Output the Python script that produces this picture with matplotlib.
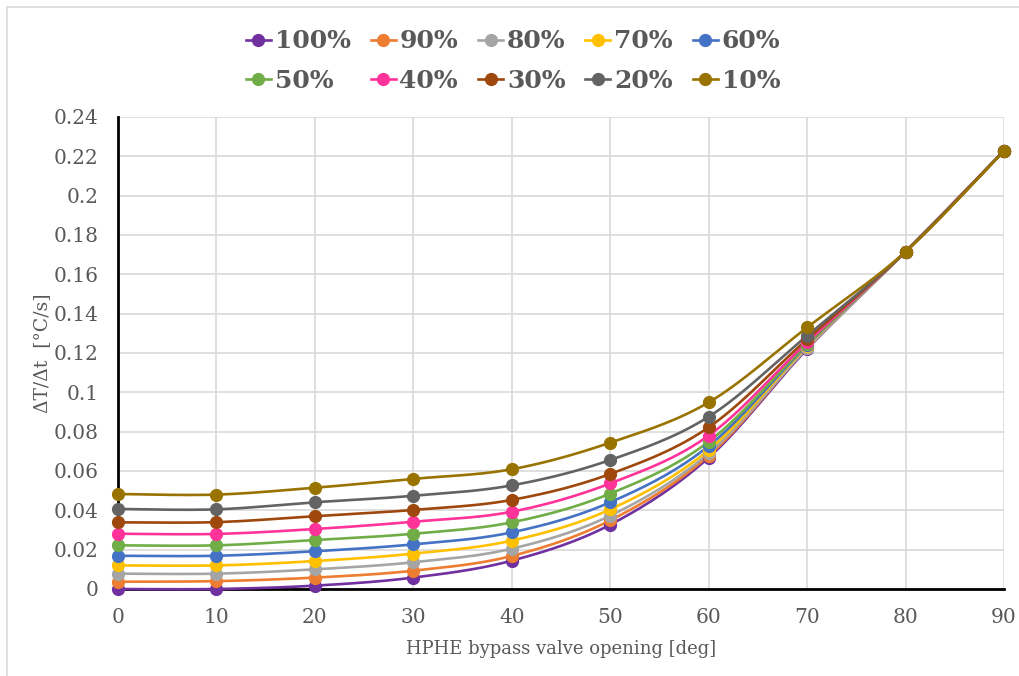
import numpy as np
import matplotlib
matplotlib.use("Agg")
import matplotlib.pyplot as plt
from matplotlib.lines import Line2D
from matplotlib.patches import Rectangle

x_deg = [0, 10, 20, 30, 40, 50, 60, 70, 80, 90]
labels = ["100%", "90%", "80%", "70%", "60%", "50%", "40%", "30%", "20%", "10%"]
colors = ["#7030A0", "#ED7D31", "#A5A5A5", "#FFC000", "#4472C4",
          "#70AD47", "#FF3399", "#9E480E", "#636363", "#997300"]

s100 = [0.0000, 0.0000, 0.0017, 0.0058, 0.0144, 0.0327, 0.0668, 0.1220, 0.1715, 0.2228]
s90 = [0.0037, 0.0040, 0.0058, 0.0093, 0.0168, 0.0349, 0.0678, 0.1225, 0.1715, 0.2228]
s80 = [0.0078, 0.0078, 0.0100, 0.0136, 0.0205, 0.0373, 0.0690, 0.1225, 0.1715, 0.2228]
s70 = [0.0120, 0.0120, 0.0142, 0.0180, 0.0246, 0.0405, 0.0707, 0.1235, 0.1715, 0.2228]
s60 = [0.0169, 0.0169, 0.0192, 0.0227, 0.0288, 0.0441, 0.0727, 0.1240, 0.1715, 0.2228]
s50 = [0.0222, 0.0222, 0.0249, 0.0281, 0.0339, 0.0485, 0.0749, 0.1245, 0.1715, 0.2228]
s40 = [0.0281, 0.0280, 0.0305, 0.0342, 0.0393, 0.0537, 0.0780, 0.1255, 0.1715, 0.2228]
s30 = [0.0339, 0.0340, 0.0370, 0.0402, 0.0453, 0.0585, 0.0822, 0.1270, 0.1715, 0.2228]
s20 = [0.0407, 0.0405, 0.0441, 0.0474, 0.0527, 0.0656, 0.0876, 0.1288, 0.1715, 0.2228]
s10 = [0.0483, 0.0480, 0.0515, 0.0560, 0.0609, 0.0744, 0.0949, 0.1330, 0.1715, 0.2228]
series = [s100, s90, s80, s70, s60, s50, s40, s30, s20, s10]

y_ticks = [0, 0.02, 0.04, 0.06, 0.08, 0.1, 0.12, 0.14, 0.16, 0.18, 0.2, 0.22, 0.24]
x_ticks = [0, 10, 20, 30, 40, 50, 60, 70, 80, 90]


def smooth(xs, ys, n=30):
    """Excel-style smoothed line (Bezier through points)."""
    xs = np.asarray(xs, float)
    ys = np.asarray(ys, float)
    P = np.column_stack([xs, ys])
    out = []
    for i in range(len(P) - 1):
        p0 = P[i - 1] if i > 0 else P[i]
        p1 = P[i]
        p2 = P[i + 1]
        p3 = P[i + 2] if i + 2 < len(P) else P[i + 1]
        c1 = p1 + (p2 - p0) / 6.0
        c2 = p2 - (p3 - p1) / 6.0
        t = np.linspace(0, 1, n)[:, None]
        seg = ((1 - t) ** 3) * p1 + 3 * ((1 - t) ** 2) * t * c1 + 3 * (1 - t) * t ** 2 * c2 + t ** 3 * p2
        out.append(seg if i == 0 else seg[1:])
    out = np.vstack(out)
    return out[:, 0], out[:, 1]


FONT = "DejaVu Serif"
TXT = "#595959"

fig = plt.figure(figsize=(10.2, 6.76), dpi=100)
fig.patch.set_facecolor("white")
fig.add_artist(Rectangle((7 / 1020, -0.05), 1.2, 1 - 7 / 676 + 0.05, transform=fig.transFigure,
                         fill=False, edgecolor="#d9d9d9", linewidth=1.2))

ax = fig.add_axes([118 / 1020, 1 - 589 / 676, (1004 - 118) / 1020, (589 - 117) / 676])

for ys, c, lab in zip(series, colors, labels):
    sx, sy = smooth(x_deg, ys)
    ax.plot(sx, sy, color=c, linewidth=1.9, solid_capstyle="round", clip_on=False, zorder=3)
    ax.plot(x_deg, ys, linestyle="none", marker="o", markersize=8.5, color=c,
            clip_on=False, zorder=4)

ax.set_xlim(0, 90)
ax.set_ylim(0, 0.24)
ax.set_xticks(x_ticks)
ax.set_yticks(y_ticks)
ax.set_yticklabels([f"{v:g}" for v in y_ticks])
ax.set_xticklabels([str(v) for v in x_ticks])
ax.grid(True, color="#d9d9d9", linewidth=1.2, zorder=0)
ax.set_axisbelow(True)
for s in ["top", "right"]:
    ax.spines[s].set_visible(False)
for s in ["left", "bottom"]:
    ax.spines[s].set_color("black")
    ax.spines[s].set_linewidth(2.0)
    ax.spines[s].set_zorder(2.5)
ax.tick_params(length=0, labelsize=14.5, labelcolor=TXT)
ax.tick_params(axis="y", pad=14)
ax.tick_params(axis="x", pad=14)
for lbl in ax.get_xticklabels() + ax.get_yticklabels():
    lbl.set_fontfamily(FONT)

ax.set_xlabel("HPHE bypass valve opening [deg]", fontsize=13, color=TXT,
              fontfamily=FONT, labelpad=9)
ax.set_ylabel("ΔT/Δt  [°C/s]", fontsize=13.5, color=TXT, fontfamily=FONT, labelpad=2)

# legend: reorder so entries fill row by row (matplotlib fills column by column)
ncol = 5
order = []
for c in range(ncol):
    for r in range(2):
        order.append(r * ncol + c)
handles = [Line2D([0], [0], color=colors[i], linewidth=1.9, marker="o", markersize=8.5)
           for i in order]
leg_labels = [labels[i] for i in order]
leg = fig.legend(handles, leg_labels, ncol=ncol, loc="upper center",
                 bbox_to_anchor=(0.503, 0.99),
                 frameon=False, handlelength=1.0, handletextpad=0.15, columnspacing=0.8,
                 labelspacing=0.62,
                 prop={"family": FONT, "weight": "bold", "size": 18})
for t in leg.get_texts():
    t.set_color(TXT)

fig.savefig("out.png", dpi=100, facecolor="white")
